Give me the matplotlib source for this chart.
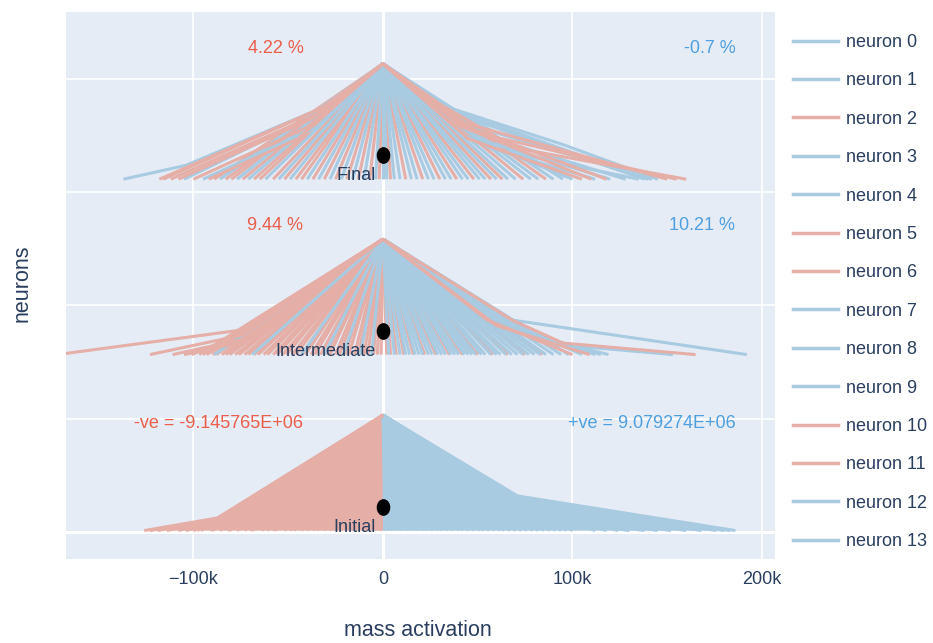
import numpy as np
import matplotlib.pyplot as plt
from matplotlib.lines import Line2D
from matplotlib.path import Path

plt.rcParams['font.family'] = ['Liberation Sans', 'DejaVu Sans']

RED = '#E5AEA7'
BLUE = '#A8CBE2'
RED_TXT = '#EB5E4B'
BLUE_TXT = '#4FA0DF'
INK = '#2a3f5f'

# ---- data (x values in thousands) ----
stages = ['Initial', 'Intermediate', 'Final']
stage_base = [0.01, 1.565, 3.115]
fan_height = 1.02
dot_offset = 0.21

neg_text = ['-ve = -9.145765E+06', '9.44 %', '4.22 %']
pos_text = ['+ve = 9.079274E+06', '10.21 %', '-0.7 %']

neuron_names = ['neuron %d' % i for i in range(14)]
neuron_sign = ['+', '+', '-', '+', '+', '-', '-', '+', '+', '+', '-', '-', '+', '+']

# straight lines: apex -> end on baseline
init_red_straight = [-98, -96, -91, -90, -86, -82, -81, -77, -73, -70, -69, -64, -61, -58,
                     -57, -52, -49, -47, -43, -40, -37, -35, -31, -28, -26, -22, -19, -16,
                     -13, -10, -8, -5, -3, -1]
init_blue_straight = [1, 3, 5, 8, 10, 13, 15, 18, 21, 23, 26, 29, 31, 34, 37, 40, 42, 45,
                      48, 51, 53, 56, 59, 62, 64, 67, 70, 73, 76, 79, 82, 85, 88, 91, 94,
                      97, 100]
inter_red_straight = [-97, -95, -93, -90, -88, -85, -83, -81, -78, -76, -73, -71, -68, -66,
                      -63, -61, -58, -56, -53, -51, -48, -46, -43, -41, -38, -36, -33, -30,
                      -28, -25, -23, -20, -18, -15, -13, -10, -8, -5, -3, -1,
                      2, 4, 7, 11, 16, 22, 28, 35, 42, 50, 58, 66, 75, 84]
inter_blue_straight = [-89, -69, -43, -31, -21, -12, -6,
                       3, 6, 9, 12, 14, 17, 19, 21, 24, 26, 29, 31, 33, 36, 38, 40, 43, 45,
                       47, 49, 52, 54, 57, 60, 62, 65, 68, 71, 74, 77, 80, 83, 86, 90, 94, 98]
final_red_straight = [-89, -83, -80, -74, -68, -65, -58, -52, -46, -43, -37, -31, -25, -19,
                      -13, -7, -2, 4, 12, 21, 30, 39, 48, 57, 63, 74, 86]
final_blue_straight = [-86, -77, -71, -62, -55, -49, -40, -34, -28, -22, -16, -10, -4, 0,
                       2, 6, 9, 15, 18, 24, 27, 33, 36, 42, 45, 51, 54, 60, 66, 70, 78, 82,
                       90, 95]

# bent lines: knee pairs (x, height fraction) ..., then end x on baseline
init_red_bent = [(-87, 0.11, -126), (-86, 0.10, -123), (-82, 0.12, -119), (-78, 0.13, -114),
                 (-74, 0.15, -108), (-70, 0.16, -104), (-60, 0.22, -100)]
init_blue_bent = [(71, 0.30, 186), (70, 0.29, 183), (69, 0.28, 180), (67, 0.27, 176),
                  (64, 0.26, 168), (62, 0.25, 160), (66, 0.22, 152), (70, 0.18, 145),
                  (72, 0.15, 138), (75, 0.12, 130), (60, 0.28, 124), (55, 0.30, 118),
                  (50, 0.32, 112)]
inter_red_bent = [(-76, 0.21, -172), (-74, 0.17, -123), (-72, 0.14, -111), (-71, 0.12, -105),
                  (-73, 0.19, -101), (68, 0.30, 95, 0.10, 165), (60, 0.25, 109),
                  (55, 0.30, 100)]
inter_blue_bent = [(68, 0.30, 192), (68, 0.30, 90, 0.09, 153), (70, 0.20, 119),
                   (65, 0.25, 115), (66, 0.29, 105), (62, 0.27, 112)]
final_red_bent = [(-29, 0.64, -118), (-32, 0.62, -116), (-27, 0.62, -112), (-38, 0.52, -108),
                  (-40, 0.45, -100), (-45, 0.35, -92), (31, 0.64, 70, 0.27, 160),
                  (50, 0.40, 155), (40, 0.50, 150), (40, 0.48, 118), (35, 0.50, 110),
                  (45, 0.35, 105)]
final_blue_bent = [(-29, 0.64, -104, 0.12, -137), (-30, 0.60, -105), (-35, 0.45, -95),
                   (31, 0.64, 95, 0.30, 145), (33, 0.62, 140), (31, 0.64, 60, 0.40, 142),
                   (36, 0.58, 138), (70, 0.22, 135), (45, 0.42, 128), (50, 0.35, 120),
                   (55, 0.28, 112), (40, 0.40, 100)]

straight = [(init_red_straight, init_blue_straight),
            (inter_red_straight, inter_blue_straight),
            (final_red_straight, final_blue_straight)]
bent = [(init_red_bent, init_blue_bent),
        (inter_red_bent, inter_blue_bent),
        (final_red_bent, final_blue_bent)]

xtick_vals = [-100, 0, 100, 200]
xtick_text = ['\u2212100k', '0', '100k', '200k']

# ---- figure ----
fig = plt.figure(figsize=(9.33, 6.43), dpi=100)
ax = fig.add_axes([0.0707, 0.1314, 0.76, 0.8507])
ax.set_facecolor('#E5ECF6')


def draw(base, entry, color):
    xs = [0] + list(entry[0:-1:2]) + [entry[-1]]
    hs = [1] + list(entry[1:-1:2]) + [0]
    ys = [base + h * fan_height for h in hs]
    ax.plot(np.array(xs) * 1e3, ys, color=color, lw=2.2, zorder=3,
            solid_joinstyle='round', solid_capstyle='butt')


for i, name in enumerate(stages):
    base = stage_base[i]
    top = base + fan_height
    reds, blues = straight[i]
    rbent, bbent = bent[i]
    if name == 'Initial':
        # solid body under the dense initial lines, outlined by the outer lines
        for b, col in ((rbent[0], RED), (bbent[0], BLUE)):
            ax.fill(np.array([0, b[0], b[2], 0]) * 1e3,
                    [top, base + b[1] * fan_height, base, base],
                    color=col, lw=0, zorder=2)
    for e in reds:
        draw(base, (e,), RED)
    for e in blues:
        draw(base, (e,), BLUE)
    for e in bbent:
        draw(base, e, BLUE)
    for e in rbent:
        draw(base, e, RED)

circ = Path.unit_circle()
dot_marker = Path(circ.vertices * [0.8, 1.0], circ.codes)
ax.plot([0] * 3, [b + dot_offset for b in stage_base], ls='none', marker=dot_marker,
        ms=11, color='black', zorder=5)
for i, name in enumerate(stages):
    ax.text(-4e3, stage_base[i] + 0.03, name, ha='right', va='center',
            fontsize=13, color=INK, zorder=6)

ann_y = [0.96, 2.71, 4.27]
for i in range(3):
    ax.text(-42e3, ann_y[i], neg_text[i], ha='right', va='center', fontsize=13,
            color=RED_TXT, zorder=6)
    ax.text(186e3, ann_y[i], pos_text[i], ha='right', va='center', fontsize=13,
            color=BLUE_TXT, zorder=6)

ax.set_xlim(-167.3e3, 206.9e3)
ax.set_ylim(-0.237, 4.597)
ax.set_xticks([v * 1e3 for v in xtick_vals])
ax.set_xticklabels(xtick_text)
ax.set_yticks([0, 1, 2, 3, 4])
ax.set_yticklabels([])
ax.tick_params(length=0, labelsize=13, colors=INK, pad=9)
ax.grid(True, color='white', lw=1.2, zorder=0)
ax.axvline(0, color='white', lw=2.2, zorder=1)
ax.axhline(0, color='white', lw=2.2, zorder=1)
ax.set_axisbelow(True)
for s in ax.spines.values():
    s.set_visible(False)

fig.text(418 / 933, 1 - 630 / 643, 'mass activation', ha='center', va='center',
         fontsize=15.5, color=INK)
fig.text(22 / 933, 1 - 283 / 643, 'neurons', ha='center', va='center', rotation=90,
         fontsize=15.5, color=INK)

handles = [Line2D([], [], color=BLUE if s == '+' else RED, lw=2.5) for s in neuron_sign]
fig.legend(handles, neuron_names, loc='upper left', bbox_to_anchor=(793 / 933, 1 - 34 / 643),
           frameon=False, borderpad=0, borderaxespad=0, fontsize=13,
           handlelength=2.5, handletextpad=0.45, labelspacing=1.185, labelcolor=INK)

fig.savefig('out.png', dpi=100, facecolor='white')
